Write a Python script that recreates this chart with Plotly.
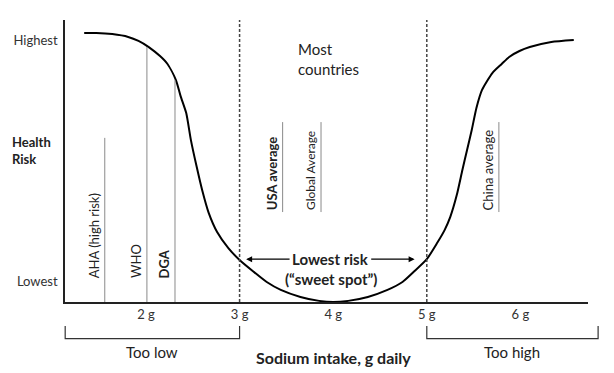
import plotly.graph_objects as go

# ---------------- data ----------------
# conceptual U-shaped curve: sodium intake (g/day) vs health risk (0 = axis, 10 = top)
sodium_g = [1.34, 1.47, 1.64, 1.81, 1.92, 2.03, 2.15, 2.23, 2.32, 2.37, 2.43, 2.48, 2.54, 2.60,
            2.67, 2.76, 2.88, 3.00, 3.14, 3.29, 3.44, 3.65, 3.85, 4.00, 4.16, 4.37, 4.58, 4.74,
            4.87, 5.00, 5.11, 5.19, 5.25, 5.32, 5.38, 5.43, 5.48, 5.53, 5.59, 5.70, 5.80, 5.88,
            5.99, 6.10, 6.33, 6.57]
risk = [9.54, 9.54, 9.50, 9.40, 9.26, 9.04, 8.72, 8.44, 7.87, 7.30, 6.70, 5.74, 4.82, 3.97,
        3.16, 2.48, 1.91, 1.49, 1.10, 0.71, 0.43, 0.18, 0.04, 0.00, 0.04, 0.18, 0.43, 0.71,
        1.10, 1.52, 2.09, 2.55, 3.01, 3.79, 4.68, 5.39, 6.10, 6.88, 7.52, 8.12, 8.44, 8.69,
        8.90, 9.04, 9.22, 9.29]

# recommendations (lines rise from the axis)
rec_labels = ["AHA (high risk)", "WHO", "DGA"]
rec_g = [1.56, 2.01, 2.31]
rec_top = [5.82, 9.04, 7.87]
rec_bold = [False, False, True]
rec_size = [13, 13, 13]

# population averages (floating lines)
avg_labels = ["USA average", "Global Average", "China average"]
avg_g = [3.46, 3.87, 5.77]
avg_bottom = [3.19, 3.19, 3.19]
avg_top = [6.38, 6.38, 6.38]
avg_bold = [True, False, False]
avg_size = [13, 12, 13]

# zone boundaries
zone_g = [3.0, 5.0]

# axes
x_tick_vals = [2, 3, 4, 5, 6]
x_tick_text = ["2 g", "3 g", "4 g", "5 g", "6 g"]
y_tick_vals = [0.74, 9.29]
y_tick_text = ["Lowest", "Highest"]
x_range = [1.135, 6.722]
y_range = [0, 10]

# bottom brackets
bracket_start_g = [1.137, 5.0]
bracket_end_g = [3.0, 6.83]
bracket_labels = ["Too low", "Too high"]

FONT = "Lato"
TXT = "#222222"

fig = go.Figure()

# main curve
fig.add_trace(go.Scatter(x=sodium_g, y=risk, mode="lines",
                         line=dict(color="black", width=2, shape="spline", smoothing=0.6),
                         hoverinfo="skip", showlegend=False))

# recommendation lines
for g, top in zip(rec_g, rec_top):
    fig.add_trace(go.Scatter(x=[g, g], y=[0, top], mode="lines",
                             line=dict(color="#8a8a8a", width=1),
                             hoverinfo="skip", showlegend=False))
for lab, g, b, s in zip(rec_labels, rec_g, rec_bold, rec_size):
    fig.add_annotation(x=g, y=0.78, xref="x", yref="y", text=f"<b>{lab}</b>" if b else lab,
                       textangle=-90, xanchor="right", yanchor="bottom", xshift=-1,
                       showarrow=False, font=dict(family=FONT, size=s, color=TXT))

# average lines
for g, b0, t0 in zip(avg_g, avg_bottom, avg_top):
    fig.add_trace(go.Scatter(x=[g, g], y=[b0, t0], mode="lines",
                             line=dict(color="#8a8a8a", width=1),
                             hoverinfo="skip", showlegend=False))
for lab, g, b0, b, s in zip(avg_labels, avg_g, avg_bottom, avg_bold, avg_size):
    fig.add_annotation(x=g, y=b0, xref="x", yref="y", text=f"<b>{lab}</b>" if b else lab,
                       textangle=-90, xanchor="right", yanchor="bottom", xshift=-1,
                       showarrow=False, font=dict(family=FONT, size=s, color=TXT))

# dashed boundaries
for g in zone_g:
    fig.add_shape(type="line", xref="x", yref="paper", x0=g, x1=g, y0=0, y1=1,
                  line=dict(color="#444444", width=1.5, dash="3px,2px"))

# texts in plot
fig.add_annotation(x=3.646, y=8.62, xref="x", yref="y", text="Most<br>countries",
                   align="left", xanchor="left", yanchor="middle", showarrow=False, xshift=-4,
                   font=dict(family=FONT, size=15, color=TXT))
fig.add_annotation(x=3.97, y=1.52, xref="x", yref="y", text="<b>Lowest risk</b>",
                   showarrow=False, font=dict(family=FONT, size=15, color=TXT))
fig.add_annotation(x=3.98, y=0.82, xref="x", yref="y", text="<b>(\u201csweet spot\u201d)</b>",
                   showarrow=False, font=dict(family=FONT, size=15, color=TXT))
# arrows
for head, tail in [(3.07, 3.55), (4.87, 4.39)]:
    fig.add_annotation(x=head, y=1.52, ax=tail, ay=1.52, xref="x", yref="y",
                       axref="x", ayref="y", text="", showarrow=True,
                       arrowhead=2, arrowsize=1, arrowwidth=1.2, arrowcolor="black")

# y axis title
fig.add_annotation(x=-0.105, y=0.539, xref="paper", yref="paper", text="<b>Health<br>Risk</b>",
                   align="left", xanchor="left", yanchor="middle", showarrow=False,
                   font=dict(family=FONT, size=13, color=TXT))


def to_paper(g):
    return (g - x_range[0]) / (x_range[1] - x_range[0])


# brackets below the axis
for g0, g1, lab in zip(bracket_start_g, bracket_end_g, bracket_labels):
    p0, p1 = to_paper(g0), to_paper(g1)
    fig.add_shape(type="path", xref="paper", yref="paper",
                  path=f"M {p0},-0.085 L {p0},-0.13 L {p1},-0.13 L {p1},-0.085",
                  line=dict(color="#333333", width=1.2))
    fig.add_annotation(x=(p0 + p1) / 2, y=-0.177, xref="paper", yref="paper", text=lab,
                       showarrow=False, xanchor="center", yanchor="middle",
                       font=dict(family=FONT, size=15, color=TXT))

fig.add_annotation(x=4.0, y=-0.197, xref="x", yref="paper", text="<b>Sodium intake, g daily</b>",
                   showarrow=False, xanchor="center", yanchor="middle",
                   font=dict(family=FONT, size=16, color=TXT))

# the page body adds an 8px offset; the figure size/margins compensate so the
# plot area lands at x 65-588, y 20-302 in the 614x373 window
fig.update_layout(
    width=598, height=365,
    margin=dict(l=57, r=18, t=12, b=71, autoexpand=False),
    paper_bgcolor="white", plot_bgcolor="white",
    showlegend=False,
    xaxis=dict(range=x_range, tickvals=x_tick_vals, ticktext=x_tick_text, automargin=False,
               showline=True, linecolor="#222222", linewidth=1.5, showgrid=False,
               zeroline=False, ticks="", tickfont=dict(family=FONT, size=13, color="#333333")),
    yaxis=dict(range=y_range, tickvals=y_tick_vals, ticktext=y_tick_text, automargin=False,
               showline=True, linecolor="#222222", linewidth=1.5, showgrid=False,
               zeroline=False, ticks="", ticklabelstandoff=3,
               tickfont=dict(family=FONT, size=13, color="#333333")),
)

fig.write_html("out.html")
